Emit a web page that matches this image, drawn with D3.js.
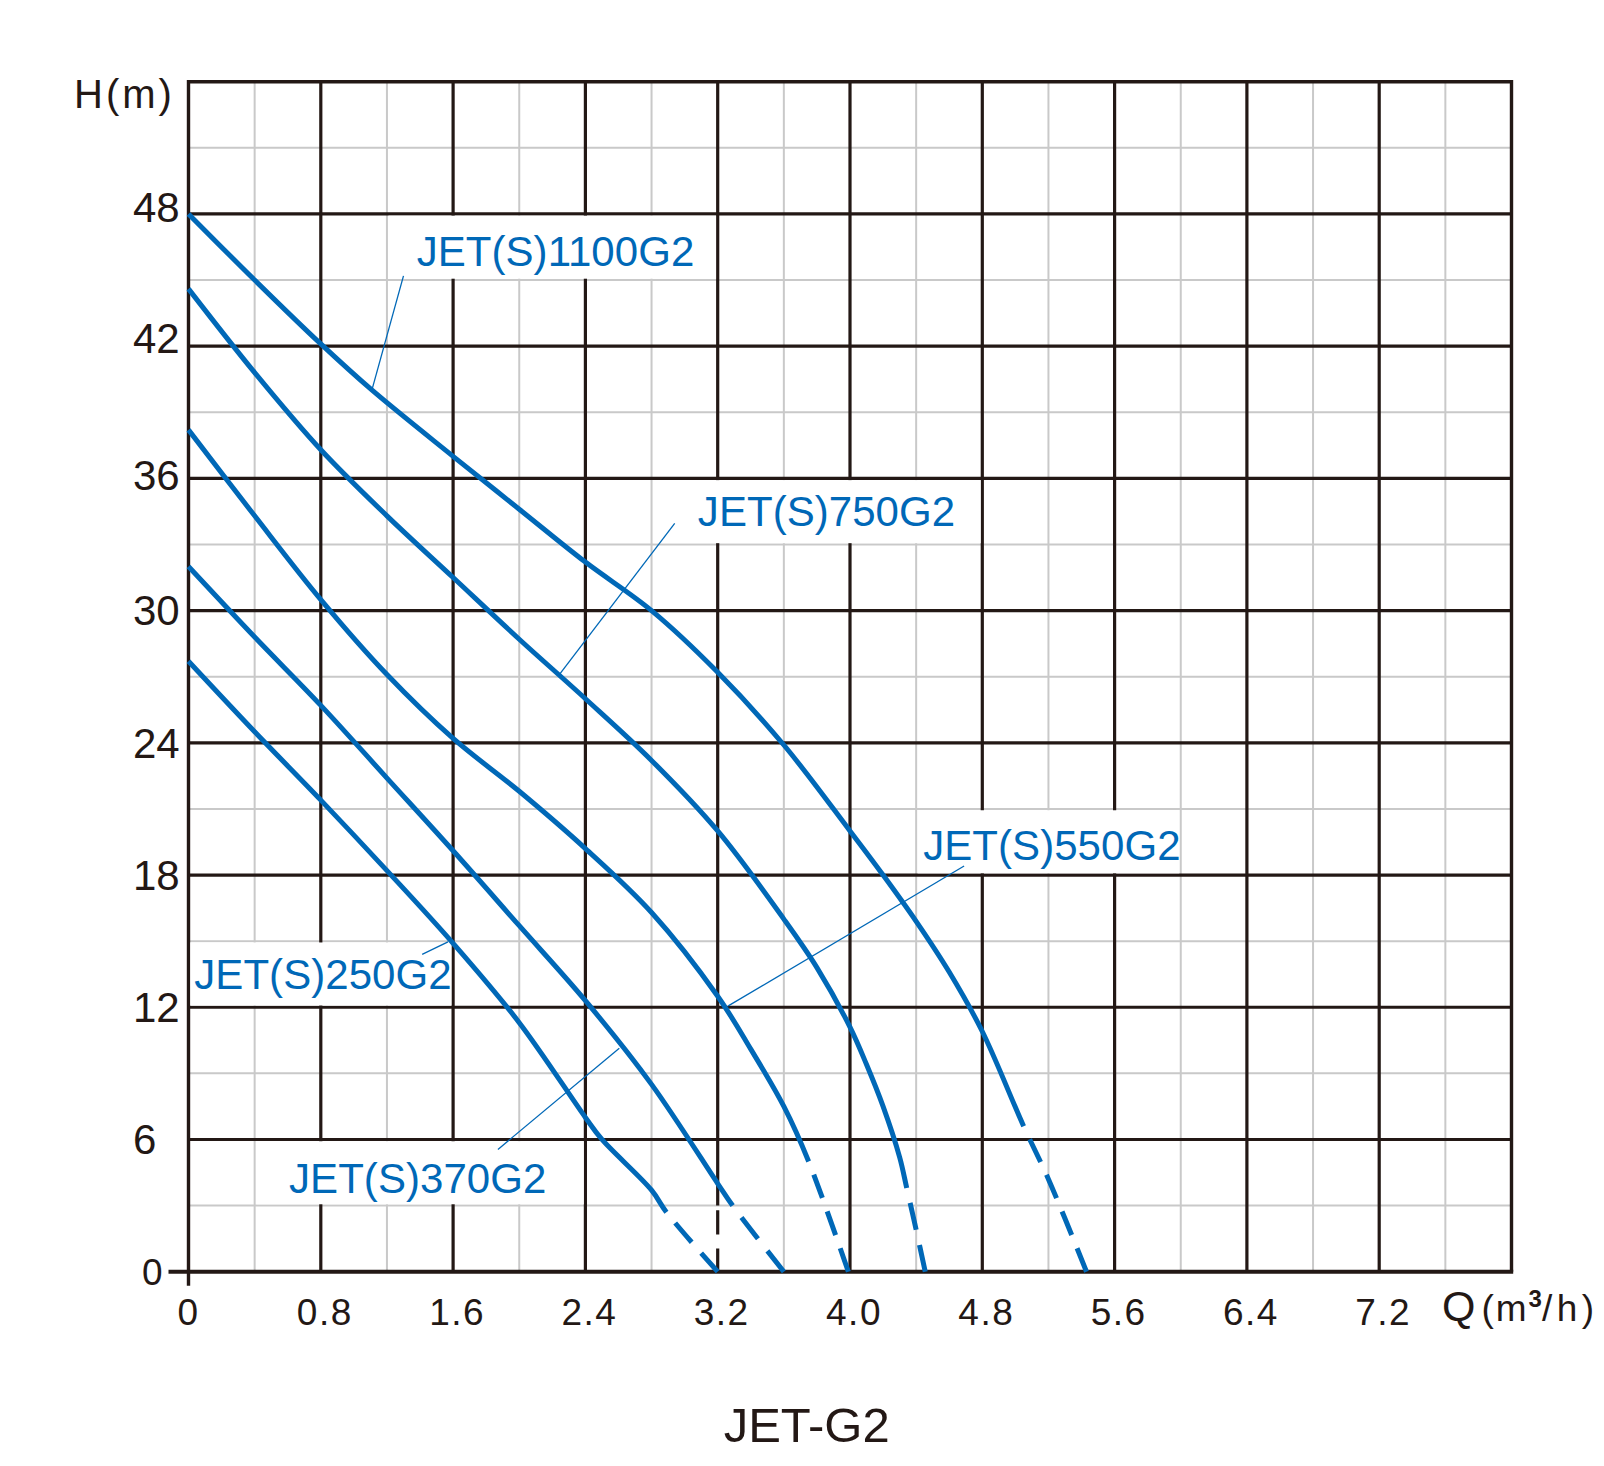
<!DOCTYPE html>
<html><head><meta charset="utf-8">
<script src="https://cdn.jsdelivr.net/npm/d3@7"></script>
<style>body{margin:0;background:#fff}svg{display:block}</style>
</head><body>
<svg id="c" width="1604" height="1466"></svg>
<script>
// ---------- data ----------
const seriesNames = ["JET(S)1100G2", "JET(S)750G2", "JET(S)550G2", "JET(S)370G2", "JET(S)250G2"];

const flow1100 = [0, 0.4, 0.8, 1.11, 1.6, 2.0, 2.4, 2.8, 3.2, 3.6, 4.0, 4.2, 4.4, 4.6, 4.8, 5.05, 5.2, 5.43];
const head1100 = [48, 45.0, 42.1, 40.0, 37.0, 34.6, 32.2, 30.0, 27.2, 23.9, 20.0, 18.0, 15.9, 13.6, 10.9, 6.6, 4.2, 0];

const flow750 = [0, 0.4, 0.8, 1.2, 1.6, 2.0, 2.4, 2.8, 3.2, 3.6, 3.8, 4.0, 4.1, 4.2, 4.3, 4.343, 4.4, 4.455];
const head750 = [44.6, 40.8, 37.3, 34.3, 31.5, 28.7, 26.0, 23.2, 20.0, 16.0, 13.8, 11.1, 9.4, 7.5, 5.2, 3.8, 1.9, 0];

const flow550 = [0, 0.4, 0.8, 1.2, 1.6, 2.0, 2.4, 2.8, 3.2, 3.4, 3.6, 3.75, 3.99];
const head550 = [38.2, 34.3, 30.5, 27.1, 24.2, 21.8, 19.2, 16.3, 12.5, 10.1, 7.5, 5.0, 0];

const flow370 = [0, 0.4, 0.8, 1.2, 1.6, 2.0, 2.4, 2.8, 3.2, 3.29, 3.6];
const head370 = [32.0, 28.8, 25.7, 22.4, 19.1, 15.7, 12.3, 8.5, 4.0, 3.0, 0];

const flow250 = [0, 0.4, 0.8, 1.2, 1.6, 2.0, 2.4, 2.5, 2.8, 2.89, 3.2];
const head250 = [27.7, 24.5, 21.4, 18.2, 14.9, 11.3, 7.0, 6.0, 3.7, 2.7, 0];

// flow from which each curve is drawn dashed
const dashFrom = [5.05, 4.343, 3.75, 3.29, 2.89];

const xTickValues = [0, 0.8, 1.6, 2.4, 3.2, 4.0, 4.8, 5.6, 6.4, 7.2];
const xTickLabels = ["0", "0.8", "1.6", "2.4", "3.2", "4.0", "4.8", "5.6", "6.4", "7.2"];
const yTickValues = [0, 6, 12, 18, 24, 30, 36, 42, 48];
const yTickLabels = ["0", "6", "12", "18", "24", "30", "36", "42", "48"];
const yAxisTitle = "H(m)";
const chartTitle = "JET-G2";

// ---------- layout ----------
const BLACK = "#231815", GRAY = "#c9c9c9", BLUE = "#0068b7";
const x = d3.scaleLinear().domain([0, 8]).range([188.5, 1511.5]);
const y = d3.scaleLinear().domain([0, 54]).range([1271.7, 81.7]);
const svg = d3.select("#c");
const FONT = "'Liberation Sans', Arial, Helvetica, sans-serif";

const flows = [flow1100, flow750, flow550, flow370, flow250];
const heads = [head1100, head750, head550, head370, head250];

// label annotations (in data units): text start, box, leader
const labels = [
  {t: 0, tq: 1.38, th: 45.63, box: [1.21, 3.19, 45.06, 47.92], lead: [1.30, 45.19, 1.11, 40.04]},
  {t: 1, tq: 3.08, th: 33.85, box: [2.81, 4.79, 33.06, 35.92], lead: [2.94, 33.96, 2.24, 27.07]},
  {t: 2, tq: 4.443, th: 18.68, box: [4.41, 5.99, 18.08, 20.94], lead: [4.69, 18.41, 3.264, 12.06]},
  {t: 3, tq: 0.608, th: 3.58, box: [0.41, 2.39, 3.06, 5.92], lead: [1.871, 5.55, 2.605, 10.14]},
  {t: 4, tq: 0.035, th: 12.81, box: [0.012, 1.59, 12.08, 14.94], lead: [1.413, 14.4, 1.569, 14.97]}
];

// ---------- grid ----------
const g = svg.append("g");
const minorX = d3.range(1, 20, 2).map(i => i * 0.4);
const minorY = d3.range(1, 18, 2).map(i => i * 3);
const majorX = d3.range(1, 10).map(i => i * 0.8);
const majorY = d3.range(1, 9).map(i => i * 6);

g.selectAll(".mx").data(minorX).join("line")
  .attr("x1", d => x(d)).attr("x2", d => x(d)).attr("y1", y(0)).attr("y2", y(54))
  .attr("stroke", GRAY).attr("stroke-width", 2);
g.selectAll(".my").data(minorY).join("line")
  .attr("x1", x(0)).attr("x2", x(8)).attr("y1", d => y(d)).attr("y2", d => y(d))
  .attr("stroke", GRAY).attr("stroke-width", 2);

g.selectAll(".Mx").data(majorX).join("line")
  .attr("x1", d => x(d)).attr("x2", d => x(d))
  .attr("y1", d => Math.abs(d - 3.2) < 1e-6 ? y(3) : y(0)).attr("y2", y(54))
  .attr("stroke", BLACK).attr("stroke-width", 3.2);
// dashed piece of the 3.2 line
g.append("line").attr("x1", x(3.2)).attr("x2", x(3.2)).attr("y1", y(3)).attr("y2", y(0))
  .attr("stroke", BLACK).attr("stroke-width", 3.2).attr("stroke-dasharray", "0 4.7 24.3 14 24");
g.selectAll(".My").data(majorY).join("line")
  .attr("x1", x(0)).attr("x2", x(8)).attr("y1", d => y(d)).attr("y2", d => y(d))
  .attr("stroke", BLACK).attr("stroke-width", 3.2);

// frame
g.append("line").attr("x1", x(0)).attr("x2", x(8)).attr("y1", y(54)).attr("y2", y(54))
  .attr("stroke", BLACK).attr("stroke-width", 3.6);
g.append("line").attr("x1", x(8)).attr("x2", x(8)).attr("y1", y(54) - 1.8).attr("y2", y(0))
  .attr("stroke", BLACK).attr("stroke-width", 3.4);
g.append("line").attr("x1", x(0)).attr("x2", x(0)).attr("y1", y(54) - 1.8).attr("y2", y(0) + 14)
  .attr("stroke", BLACK).attr("stroke-width", 3.4);
g.append("line").attr("x1", x(0) - 20).attr("x2", x(8) + 1.7).attr("y1", y(0)).attr("y2", y(0))
  .attr("stroke", BLACK).attr("stroke-width", 4);

// ---------- label boxes & leaders ----------
svg.append("g").selectAll("rect").data(labels).join("rect")
  .attr("x", d => x(d.box[0])).attr("width", d => x(d.box[1]) - x(d.box[0]))
  .attr("y", d => y(d.box[3])).attr("height", d => y(d.box[2]) - y(d.box[3]))
  .attr("fill", "#fff");
svg.append("g").selectAll("line").data(labels).join("line")
  .attr("x1", d => x(d.lead[0])).attr("y1", d => y(d.lead[1]))
  .attr("x2", d => x(d.lead[2])).attr("y2", d => y(d.lead[3]))
  .attr("stroke", BLUE).attr("stroke-width", 1.3);

// ---------- curves ----------
const line = d3.line().x(d => x(d[0])).y(d => y(d[1])).curve(d3.curveCatmullRom.alpha(0.5));
const cg = svg.append("g").attr("fill", "none").attr("stroke", BLUE).attr("stroke-width", 5);
flows.forEach((fl, i) => {
  const pts = fl.map((q, k) => [q, heads[i][k]]);
  const d = line(pts);
  const solid = cg.append("path").attr("d", d).attr("stroke-linejoin", "round");
  const node = solid.node();
  const T = node.getTotalLength();
  // find length where the curve reaches dashFrom
  const xs = x(dashFrom[i]);
  let lo = 0, hi = T;
  for (let k = 0; k < 40; k++) {
    const mid = (lo + hi) / 2;
    if (node.getPointAtLength(mid).x < xs) lo = mid; else hi = mid;
  }
  const s0 = (lo + hi) / 2;
  solid.attr("stroke-dasharray", `${s0} ${T + 10}`);
  const L = T - s0;
  const n = Math.max(1, Math.round(L / 40));
  const p = L / n, dash = 0.64 * p, gap = p - dash;
  const arr = [0, s0 + gap];
  for (let k = 0; k < n; k++) { arr.push(dash); arr.push(k < n - 1 ? gap : T + 10); }
  cg.append("path").attr("d", d).attr("stroke-dasharray", arr.join(" "));
});

// ---------- label texts ----------
svg.append("g").selectAll("text").data(labels).join("text")
  .attr("x", d => x(d.tq)).attr("y", d => y(d.th))
  .attr("font-family", FONT).attr("font-size", 42).attr("letter-spacing", 0.05).attr("fill", BLUE)
  .text(d => seriesNames[d.t]);

// ---------- axes text ----------
const xt = svg.append("g").attr("font-family", FONT).attr("fill", BLACK);
xt.selectAll("text").data(xTickValues).join("text")
  .attr("x", (d, i) => x(d) + (i === 0 ? 0 : 4)).attr("y", 1325)
  .attr("text-anchor", "middle").attr("font-size", 37).attr("letter-spacing", 1.5)
  .text((d, i) => xTickLabels[i]);

const yOff = {48: -7, 42: -8, 36: -3, 30: -1};
const yt = svg.append("g").attr("font-family", FONT).attr("fill", BLACK);
yt.selectAll("text").data(yTickValues).join("text")
  .attr("x", d => d === 0 ? 142 : 133)
  .attr("y", d => d === 0 ? y(0) + 13.5 : y(d) + 15 + (yOff[d] || 0))
  .attr("font-size", d => d === 0 ? 37 : 42)
  .text((d, i) => yTickLabels[i]);

svg.append("text").attr("x", 74).attr("y", 107.5).attr("font-family", FONT)
  .attr("font-size", 40).attr("letter-spacing", 3).attr("fill", BLACK).text(yAxisTitle);

const q = svg.append("text").attr("x", 1442).attr("y", 1321).attr("font-family", FONT).attr("fill", BLACK);
q.append("tspan").attr("font-size", 43).text("Q");
q.append("tspan").attr("font-size", 37).attr("dx", 6).attr("letter-spacing", 2).text("(m");
q.append("tspan").attr("font-size", 24).attr("font-weight", "bold").attr("dy", -14).text("3");
q.append("tspan").attr("font-size", 37).attr("dy", 14).attr("letter-spacing", 4.5).text("/h)");

svg.append("text").attr("x", 806.7).attr("y", 1442).attr("text-anchor", "middle")
  .attr("font-family", FONT).attr("font-size", 49).attr("fill", BLACK).text(chartTitle);
</script>
</body></html>
